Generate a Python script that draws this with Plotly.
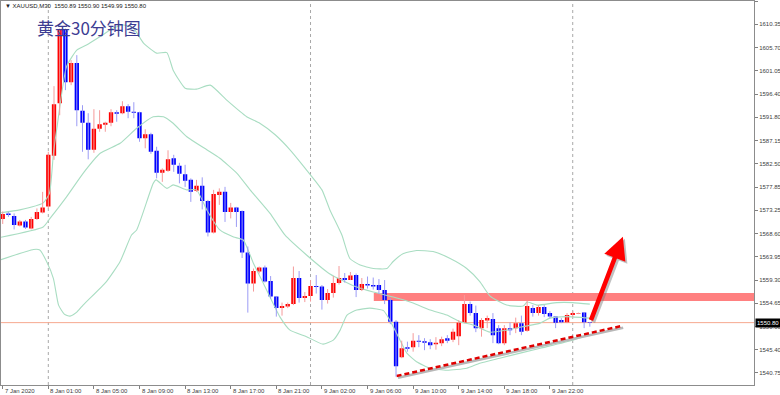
import plotly.graph_objects as go

# ---------------- data ----------------
opens = [1571.5, 1572.6, 1572.1, 1570.2, 1571.0, 1569.6, 1571.5, 1572.8, 1574.0, 1584.1,
         1594.6, 1609.3, 1598.8, 1602.6, 1593.1, 1590.7, 1585.3, 1589.5, 1590.3, 1590.7,
         1592.8, 1592.6, 1594.0, 1592.9, 1592.8, 1587.6, 1588.4, 1585.1, 1580.7, 1581.1,
         1583.6, 1582.1, 1580.4, 1579.3, 1577.1, 1578.1, 1575.1, 1568.8, 1576.3, 1576.9,
         1572.9, 1573.8, 1573.1, 1564.8, 1558.6, 1561.0, 1561.8, 1559.1, 1556.0, 1553.7,
         1554.0, 1554.5, 1559.7, 1555.7, 1556.1, 1558.1, 1558.0, 1555.3, 1556.7, 1558.7,
         1559.7, 1559.3, 1560.3, 1557.3, 1558.5, 1558.3, 1558.3, 1557.3, 1555.3, 1551.0,
         1543.9, 1545.9, 1545.9, 1547.2, 1547.1, 1546.9, 1546.5, 1546.7, 1547.7, 1547.4,
         1548.1, 1550.8, 1554.5, 1552.7, 1549.7, 1551.2, 1551.5, 1549.7, 1546.7, 1549.7,
         1549.7, 1550.7, 1549.2, 1553.7, 1552.7, 1553.9, 1552.7, 1552.0, 1551.3, 1550.9,
         1552.3, 1552.6, 1552.8, 1550.89]
highs = [1573.0, 1572.9, 1572.6, 1571.3, 1571.3, 1571.9, 1573.6, 1576.9, 1584.9, 1598.0,
         1609.5, 1609.5, 1603.2, 1604.2, 1594.2, 1592.6, 1593.4, 1593.2, 1590.9, 1593.4,
         1593.2, 1595.0, 1594.4, 1594.8, 1592.9, 1589.4, 1588.7, 1585.9, 1581.6, 1585.2,
         1584.3, 1582.7, 1582.3, 1579.6, 1579.3, 1579.8, 1575.3, 1577.3, 1577.6, 1577.9,
         1574.7, 1573.9, 1573.2, 1566.0, 1561.6, 1562.0, 1562.2, 1560.1, 1556.1, 1554.8,
         1554.8, 1562.0, 1561.1, 1556.9, 1559.3, 1560.3, 1558.3, 1557.5, 1560.1, 1562.1,
         1560.7, 1560.9, 1560.6, 1559.7, 1560.0, 1559.8, 1559.5, 1559.3, 1555.7, 1551.3,
         1547.2, 1547.0, 1548.7, 1548.3, 1547.7, 1547.5, 1547.9, 1548.0, 1548.3, 1549.6,
         1551.3, 1556.3, 1555.0, 1554.2, 1551.7, 1552.2, 1552.7, 1550.3, 1550.3, 1550.8,
         1551.8, 1552.2, 1555.2, 1554.3, 1554.3, 1554.3, 1553.1, 1552.1, 1551.7, 1552.7,
         1553.1, 1552.8, 1552.9, 1550.90]
lows = [1570.5, 1571.9, 1569.4, 1570.0, 1569.5, 1569.4, 1571.3, 1572.6, 1573.6, 1583.3,
        1592.2, 1597.2, 1598.2, 1590.0, 1584.9, 1583.4, 1584.7, 1588.9, 1588.9, 1590.0,
        1590.9, 1592.4, 1591.6, 1591.6, 1586.9, 1585.6, 1584.5, 1579.6, 1578.9, 1580.9,
        1580.9, 1578.6, 1577.9, 1574.9, 1576.9, 1573.4, 1568.0, 1568.6, 1574.3, 1570.9,
        1571.6, 1569.9, 1563.7, 1552.8, 1557.0, 1560.6, 1558.8, 1555.6, 1552.0, 1552.2,
        1553.7, 1554.3, 1554.8, 1554.9, 1555.0, 1556.6, 1553.4, 1554.6, 1555.8, 1558.4,
        1558.8, 1559.3, 1555.9, 1557.1, 1557.6, 1557.4, 1556.5, 1554.5, 1550.5, 1540.0,
        1543.7, 1545.0, 1545.0, 1545.9, 1545.3, 1545.5, 1545.4, 1546.1, 1546.7, 1546.9,
        1546.3, 1550.7, 1552.2, 1548.9, 1548.0, 1549.7, 1546.7, 1546.5, 1546.3, 1548.3,
        1548.7, 1548.3, 1549.0, 1552.0, 1552.2, 1551.9, 1551.7, 1549.7, 1550.7, 1550.7,
        1551.9, 1552.5, 1549.7, 1549.99]
closes = [1572.5, 1572.3, 1570.3, 1571.0, 1569.8, 1571.5, 1572.9, 1573.8, 1584.3, 1594.4,
          1609.2, 1598.8, 1602.6, 1593.2, 1590.7, 1585.3, 1589.5, 1590.4, 1590.7, 1592.8,
          1592.5, 1594.0, 1592.9, 1592.7, 1587.6, 1588.4, 1584.9, 1580.7, 1581.3, 1583.4,
          1582.3, 1580.5, 1579.1, 1576.9, 1578.1, 1575.1, 1568.8, 1576.5, 1576.9, 1572.9,
          1573.8, 1572.9, 1564.8, 1558.6, 1561.1, 1561.8, 1559.0, 1556.0, 1553.7, 1554.1,
          1554.5, 1559.7, 1555.7, 1556.1, 1558.1, 1557.9, 1555.3, 1556.7, 1558.7, 1559.7,
          1559.3, 1560.2, 1557.3, 1558.5, 1558.2, 1558.0, 1557.3, 1555.3, 1551.0, 1542.1,
          1545.7, 1545.6, 1547.2, 1547.0, 1546.8, 1546.3, 1546.8, 1547.5, 1547.2, 1549.0,
          1550.8, 1554.5, 1552.7, 1549.7, 1551.3, 1551.7, 1548.3, 1546.7, 1549.7, 1549.3,
          1550.7, 1549.0, 1554.1, 1552.7, 1553.9, 1552.5, 1552.0, 1550.8, 1550.9, 1552.3,
          1552.7, 1552.7, 1550.9, 1550.80]
bars = list(range(len(opens)))

tick_bars = [0, 8, 16, 24, 32, 40, 48, 56, 64, 72, 80, 88, 96]
tick_labels = ["7 Jan 2020", "8 Jan 01:00", "8 Jan 05:00", "8 Jan 09:00", "8 Jan 13:00",
               "8 Jan 17:00", "8 Jan 21:00", "9 Jan 02:00", "9 Jan 06:00", "9 Jan 10:00",
               "9 Jan 14:00", "9 Jan 18:00", "9 Jan 22:00"]
day_separators = [8, 54, 100]

y_tick_vals = [1615.00, 1610.35, 1605.70, 1601.05, 1596.40, 1591.80, 1587.15, 1582.50,
               1577.85, 1573.25, 1568.60, 1563.95, 1559.30, 1554.65, 1550.00, 1545.40, 1540.75]
y_tick_text = ["%.2f" % v for v in y_tick_vals]

# Bollinger bands
upper_x = [-0.5, 3.0, 7.1, 8.2, 8.9, 9.5, 11.2, 13.0, 14.7, 17.1, 19.4, 21.2, 22.9, 24.7, 27.0,
           28.8, 29.9, 32.0, 34.0, 36.4, 39.3, 42.8, 45.1, 47.8, 50.4, 53.0, 56.0, 57.4, 59.5,
           60.9, 62.7, 65.0, 67.4, 68.5, 70.3, 72.6, 75.5, 78.5, 81.4, 83.7, 85.5, 88.4, 91.3,
           92.0, 93.7, 97.2, 100.0, 103.0]
upper_y = [1572.7, 1573.3, 1574.7, 1576.6, 1584.6, 1589.6, 1601.9, 1605.2, 1606.2, 1607.9,
           1609.6, 1610.2, 1609.6, 1606.6, 1604.6, 1604.7, 1601.2, 1597.6, 1597.4, 1598.2,
           1595.2, 1591.9, 1590.6, 1588.3, 1585.3, 1581.7, 1577.3, 1573.3, 1568.3, 1563.6,
           1562.3, 1561.6, 1561.6, 1563.0, 1564.6, 1565.2, 1565.0, 1563.6, 1561.6, 1559.0,
           1556.1, 1554.3, 1554.1, 1554.9, 1554.3, 1554.8, 1554.8, 1554.5]
mid_x = [-0.5, 7.1, 8.3, 11.2, 14.1, 17.1, 20.6, 23.5, 26.4, 28.2, 29.9, 32.3, 35.8, 38.1, 41.1,
         43.4, 46.9, 49.5, 53.3, 57.4, 62.1, 65.0, 68.5, 72.0, 75.0, 77.9, 80.2, 82.6, 85.5,
         88.4, 91.3, 94.3, 96.0, 98.9, 103.0]
mid_y = [1567.8, 1569.9, 1571.6, 1575.9, 1580.6, 1584.6, 1586.6, 1589.6, 1591.9, 1591.9,
         1590.6, 1587.9, 1585.3, 1583.6, 1580.6, 1577.3, 1572.6, 1568.3, 1564.3, 1560.5,
         1557.9, 1556.9, 1555.9, 1554.7, 1553.3, 1552.3, 1551.0, 1550.3, 1548.9, 1549.3,
         1550.0, 1550.7, 1551.7, 1552.0, 1551.7]
lower_x = [-0.5, 5.4, 6.5, 7.7, 8.9, 9.8, 10.8, 11.8, 13.0, 14.1, 18.2, 20.6, 22.6, 23.5, 26.4,
           26.9, 28.8, 29.9, 32.3, 34.0, 35.8, 38.1, 40.5, 42.2, 44.0, 45.7, 48.6, 50.4, 53.3,
           56.2, 58.0, 59.2, 60.4, 62.1, 64.4, 66.8, 67.9, 69.7, 70.9, 72.6, 75.0, 77.9, 81.4,
           83.7, 87.2, 94.3, 100.0, 103.0]
lower_y = [1563.3, 1565.4, 1565.3, 1563.0, 1559.6, 1554.3, 1552.5, 1552.1, 1552.9, 1554.3,
           1559.0, 1563.0, 1568.3, 1569.3, 1578.6, 1579.3, 1577.6, 1578.3, 1577.3, 1577.3,
           1573.3, 1569.3, 1567.9, 1567.3, 1562.6, 1558.7, 1552.0, 1549.3, 1548.0, 1546.5,
           1547.3, 1549.3, 1552.3, 1553.3, 1553.7, 1553.2, 1551.3, 1547.3, 1544.7, 1543.0,
           1541.7, 1541.3, 1541.7, 1542.7, 1543.7, 1545.7, 1547.3, 1548.5]

zone_start_bar = 65.1
zone_low, zone_high = 1555.1, 1556.7
trend_x = [69.1, 108.6]
trend_y = [1540.15, 1550.13]
arrow_tail = (103.1, 1551.0)
arrow_tip = (108.8, 1567.95)
bid_price = 1550.80
header = "▼ XAUUSD,M30  1550.89 1550.90 1549.99 1550.80"
title_text = "黄金30分钟图"

X_RANGE = [-0.3, 131.8]
Y_RANGE = [1538.35, 1615.0]

# ---------------- figure ----------------
fig = go.Figure()

band_color = "#A9DDC2"
for bx, by in [(upper_x, upper_y), (mid_x, mid_y), (lower_x, lower_y)]:
    fig.add_trace(go.Scatter(x=bx, y=by, mode="lines",
                             line=dict(color=band_color, width=1.1, shape="spline", smoothing=0.5),
                             hoverinfo="skip", showlegend=False))

# trend line shadow + dashed red line
fig.add_trace(go.Scatter(x=[v + 0.25 for v in trend_x], y=[v - 0.35 for v in trend_y],
                         mode="lines", line=dict(color="#B8B8B8", width=2.5),
                         hoverinfo="skip", showlegend=False))
fig.add_trace(go.Scatter(x=trend_x, y=trend_y, mode="lines",
                         line=dict(color="#E00000", width=2.5, dash="5px,3px"),
                         hoverinfo="skip", showlegend=False))

# wicks
def wick_xy(up):
    xs, ys = [], []
    for i, (o, h, l, c) in enumerate(zip(opens, highs, lows, closes)):
        if (c >= o) == up:
            xs += [i, i, None]
            ys += [l, h, None]
    return xs, ys

wx, wy = wick_xy(True)
fig.add_trace(go.Scatter(x=wx, y=wy, mode="lines", line=dict(color="#F59A9A", width=1),
                         hoverinfo="skip", showlegend=False))
wx, wy = wick_xy(False)
fig.add_trace(go.Scatter(x=wx, y=wy, mode="lines", line=dict(color="#9C9CF5", width=1),
                         hoverinfo="skip", showlegend=False))

fig.add_trace(go.Candlestick(
    x=bars, open=opens, high=highs, low=lows, close=closes,
    increasing=dict(fillcolor="#FF0000", line=dict(color="#FF0000", width=0)),
    decreasing=dict(fillcolor="#0000FF", line=dict(color="#0000FF", width=0)),
    whiskerwidth=0, hoverinfo="skip", showlegend=False))

shapes = []
for s in day_separators:
    shapes.append(dict(type="line", xref="x", yref="paper", x0=s, x1=s, y0=0, y1=1,
                       line=dict(color="#A8A8A8", width=1, dash="dot"), layer="below"))
shapes.append(dict(type="rect", xref="x", yref="y", x0=zone_start_bar, x1=X_RANGE[1],
                   y0=zone_low, y1=zone_high, fillcolor="#FF8080", line=dict(width=0),
                   layer="below"))
shapes.append(dict(type="line", xref="paper", yref="y", x0=0, x1=1, y0=bid_price, y1=bid_price,
                   line=dict(color="#F6A98F", width=1), layer="below"))

annotations = []
for b, t in zip(tick_bars, tick_labels):
    annotations.append(dict(x=b, y=0, xref="x", yref="paper", text=t, showarrow=False,
                            xanchor="left", yanchor="top", xshift=0, yshift=-1,
                            font=dict(family="Liberation Sans", size=6, color="#404040")))
annotations.append(dict(x=1, y=bid_price, xref="paper", yref="y", text="1550.80",
                        showarrow=False, xanchor="left", yanchor="middle", xshift=1,
                        bgcolor="#000000", font=dict(family="Liberation Sans", size=6, color="#FFFFFF"),
                        borderpad=1))
annotations.append(dict(x=0.003, y=0.987, xref="paper", yref="paper", text=header,
                        showarrow=False, xanchor="left", yanchor="middle",
                        font=dict(family="Liberation Sans", size=6, color="#202020")))
annotations.append(dict(x=0.045, y=0.93, xref="paper", yref="paper", text=title_text,
                        showarrow=False, xanchor="left", yanchor="middle",
                        font=dict(family="Noto Sans CJK SC", size=17, color="#3C3C92")))
for col, xs, ys in [("rgba(120,120,120,0.45)", 2, -2), ("#FF0000", 0, 0)]:
    annotations.append(dict(x=arrow_tip[0], y=arrow_tip[1], ax=arrow_tail[0], ay=arrow_tail[1],
                            xref="x", yref="y", axref="x", ayref="y", text="",
                            showarrow=True, arrowhead=2, arrowsize=1.0, arrowwidth=4.5,
                            arrowcolor=col, standoff=0, xshift=xs, yshift=ys))

fig.update_layout(
    width=780, height=395,
    margin=dict(l=1, r=26, t=1, b=10, autoexpand=False),
    paper_bgcolor="white", plot_bgcolor="white",
    showlegend=False,
    boxgap=0.13, boxgroupgap=0.13,
    shapes=shapes, annotations=annotations,
    xaxis=dict(range=X_RANGE, type="linear", rangeslider=dict(visible=False),
               tickvals=tick_bars, showticklabels=False, ticks="outside", ticklen=3,
               tickcolor="#808080", showgrid=False, zeroline=False,
               showline=True, mirror=True, linecolor="#8C8C8C", linewidth=1),
    yaxis=dict(range=Y_RANGE, side="right", tickvals=y_tick_vals, ticktext=y_tick_text,
               ticks="outside", ticklen=3, tickcolor="#808080",
               tickfont=dict(family="Liberation Sans", size=6, color="#404040"),
               showgrid=False, zeroline=False,
               showline=True, mirror=True, linecolor="#8C8C8C", linewidth=1),
)

fig.write_html("out.html", config={"displayModeBar": False},
               post_script="document.body.style.margin='0';document.body.style.padding='0';")
